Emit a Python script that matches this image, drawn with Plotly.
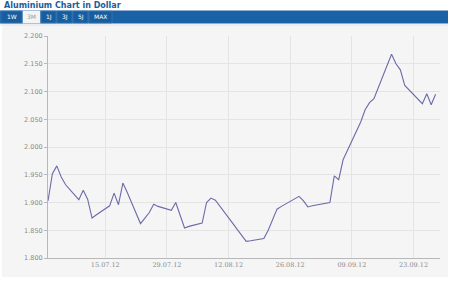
import plotly.graph_objects as go

dates = ["2012-07-02","2012-07-03","2012-07-04","2012-07-05","2012-07-06",
         "2012-07-09","2012-07-10","2012-07-11","2012-07-12","2012-07-13",
         "2012-07-16","2012-07-17","2012-07-18","2012-07-19","2012-07-20",
         "2012-07-23","2012-07-24","2012-07-25","2012-07-26","2012-07-27",
         "2012-07-30","2012-07-31","2012-08-01","2012-08-02","2012-08-03",
         "2012-08-06","2012-08-07","2012-08-08","2012-08-09","2012-08-10",
         "2012-08-13","2012-08-14","2012-08-15","2012-08-16","2012-08-17",
         "2012-08-20","2012-08-21","2012-08-22","2012-08-23","2012-08-24",
         "2012-08-27","2012-08-28","2012-08-29","2012-08-30","2012-08-31",
         "2012-09-03","2012-09-04","2012-09-05","2012-09-06","2012-09-07",
         "2012-09-10","2012-09-11","2012-09-12","2012-09-13","2012-09-14",
         "2012-09-17","2012-09-18","2012-09-19","2012-09-20","2012-09-21",
         "2012-09-24","2012-09-25","2012-09-26","2012-09-27","2012-09-28"]
prices = [1.903,1.952,1.966,1.946,1.932,
          1.905,1.922,1.906,1.872,1.878,
          1.894,1.917,1.896,1.935,1.918,
          1.862,1.872,1.882,1.897,1.893,
          1.886,1.900,1.877,1.854,1.857,
          1.863,1.900,1.908,1.904,1.894,
          1.862,1.851,1.840,1.830,1.831,
          1.835,1.850,1.870,1.888,1.893,
          1.906,1.911,1.903,1.892,1.894,
          1.898,1.900,1.948,1.941,1.977,
          2.028,2.045,2.067,2.080,2.087,
          2.145,2.167,2.150,2.139,2.111,
          2.085,2.078,2.096,2.076,2.095]

title_text = "Aluminium Chart in Dollar"
buttons = ["1W", "3M", "1J", "3J", "5J", "MAX"]
selected = "3M"

W, H = 450, 300
L, R, T, B = 48, 10, 36, 42
PW, PH = W - L - R, H - T - B

def px(x):
    return (x - L) / PW

def py(y):
    return 1 - (y - T) / PH

fig = go.Figure()
fig.add_trace(go.Scatter(x=dates, y=prices, mode="lines",
                         line=dict(color="#6c6aa8", width=1.1),
                         hoverinfo="skip", showlegend=False))

shapes = []
# gray panel
shapes.append(dict(type="rect", xref="paper", yref="paper", layer="below",
                   x0=px(2), x1=px(448), y0=py(277), y1=py(24),
                   fillcolor="#f5f5f5", line=dict(width=0)))
# button bar
shapes.append(dict(type="rect", xref="paper", yref="paper",
                   x0=px(0), x1=px(448), y0=py(23.5), y1=py(10.5),
                   fillcolor="#1b61a6", line=dict(width=0)))
shapes.append(dict(type="line", xref="paper", yref="paper",
                   x0=px(0), x1=px(448), y0=py(25), y1=py(25),
                   line=dict(color="#dbe7f3", width=1)))

btn_x = [(1, 22), (23, 40), (41, 56), (57, 72), (73, 88), (89, 112)]
annotations = []
for lab, (a, b) in zip(buttons, btn_x):
    sel = lab == selected
    shapes.append(dict(type="rect", xref="paper", yref="paper",
                       x0=px(a), x1=px(b), y0=py(23), y1=py(11),
                       fillcolor="#f4f4f4" if sel else "#1a5d9f",
                       line=dict(color="#f4f4f4" if sel else "#3f7fbb", width=0.6)))
    annotations.append(dict(text=lab, xref="paper", yref="paper",
                            x=px((a + b) / 2), y=py(17), showarrow=False,
                            xanchor="center", yanchor="middle",
                            font=dict(family="DejaVu Sans", size=6,
                                      color="#9a9a9a" if sel else "#ffffff")))

annotations.append(dict(text="<b>" + title_text + "</b>", xref="paper", yref="paper",
                        x=px(2), y=py(5), showarrow=False,
                        xanchor="left", yanchor="middle",
                        font=dict(family="DejaVu Sans", size=8, color="#1d5c99")))

fig.update_layout(
    width=W, height=H,
    margin=dict(l=L, r=R, t=T, b=B, pad=0),
    paper_bgcolor="#ffffff",
    plot_bgcolor="#f5f5f5",
    shapes=shapes,
    annotations=annotations,
    xaxis=dict(type="date", range=["2012-07-02", "2012-09-29"],
               tick0="2012-07-15", dtick=14 * 86400000, tickformat="%d.%m.%y",
               showgrid=True, gridcolor="#e4e4e4", gridwidth=1,
               showline=True, linecolor="#b8b8b8", linewidth=1,
               ticks="", zeroline=False,
               tickfont=dict(family="DejaVu Serif", size=6.5, color="#8a8a8a")),
    yaxis=dict(range=[1.8, 2.2], dtick=0.05, tickformat=".3f",
               showgrid=True, gridcolor="#e4e4e4", gridwidth=1,
               showline=True, linecolor="#b8b8b8", linewidth=1,
               ticks="outside", ticklen=3, tickcolor="#b8b8b8",
               zeroline=False,
               tickfont=dict(family="DejaVu Sans", size=6.5, color="#8a8a8a")),
)

fig.write_html("out.html")
